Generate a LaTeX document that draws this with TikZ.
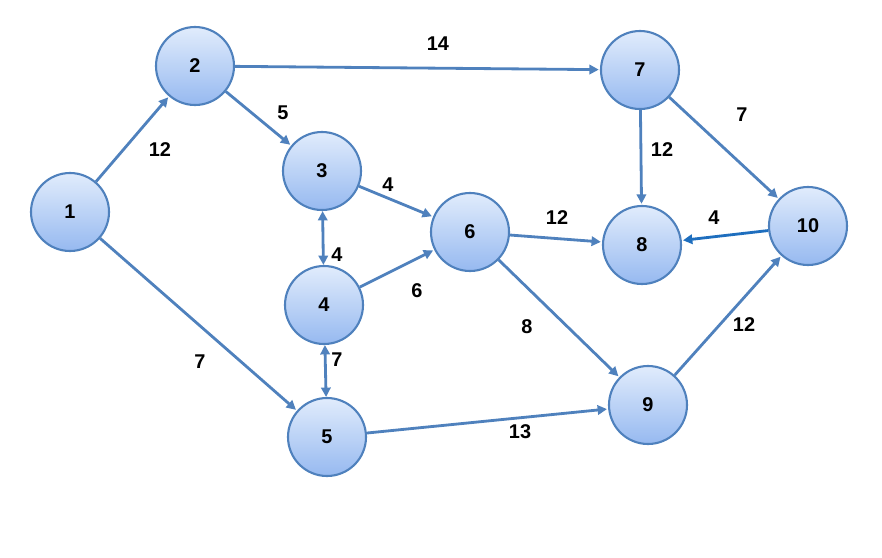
\documentclass[tikz,border=0pt]{standalone}
\usepackage{fontspec}
\setmainfont{Liberation Sans}
\usetikzlibrary{arrows.meta}
\definecolor{edge}{RGB}{79,129,189}
\definecolor{edgeb}{RGB}{30,110,190}
\definecolor{ntop}{RGB}{225,236,252}
\definecolor{nbot}{RGB}{150,185,240}
\begin{document}
\begin{tikzpicture}[x=0.03cm,y=-0.03cm,
  nd/.style={circle,draw=edge,line width=1.8pt,top color=ntop,bottom color=nbot,minimum size=78*0.03cm,inner sep=0pt,font=\fontsize{17}{19}\selectfont\bfseries},
  ar/.style={draw=edge,line width=2.4pt,-{Triangle[length=8pt,width=8pt]},shorten >=1pt},
  ba/.style={draw=edge,line width=2.4pt,{Triangle[length=8pt,width=8pt]}-{Triangle[length=8pt,width=8pt]}},
  lb/.style={font=\fontsize{17}{19}\selectfont\bfseries}]
\useasboundingbox (0,0) rectangle (882,558);
\node[nd] (n1) at (70,212) {1};
\node[nd] (n2) at (195,66) {2};
\node[nd] (n3) at (322,171) {3};
\node[nd] (n4) at (324,305) {4};
\node[nd] (n5) at (327,437) {5};
\node[nd] (n6) at (470,232) {6};
\node[nd] (n7) at (640,70) {7};
\node[nd] (n8) at (642,245) {8};
\node[nd] (n9) at (648,405) {9};
\node[nd] (n10) at (808,226) {10};
\draw[ar] (n1) -- (n2);
\draw[ar] (n1) -- (n5);
\draw[ar] (n2) -- (n3);
\draw[ar] (n2) -- (n7);
\draw[ar] (n3) -- (n6);
\draw[ba] (n3) -- (n4);
\draw[ar] (n4) -- (n6);
\draw[ba] (n4) -- (n5);
\draw[ar] (n5) -- (n9);
\draw[ar] (n6) -- (n8);
\draw[ar] (n6) -- (n9);
\draw[ar] (n7) -- (n8);
\draw[ar] (n7) -- (n10);
\draw[ar,draw=edgeb] (n10) -- (n8);
\draw[ar] (n9) -- (n10);
\node[lb] (l1) at (160,150) {12};
\node[lb] (l2) at (200,362) {7};
\node[lb] (l3) at (283,113) {5};
\node[lb] (l4) at (438,44) {14};
\node[lb] (l5) at (388,185) {4};
\node[lb] (l6) at (337,255) {4};
\node[lb] (l7) at (417,291) {6};
\node[lb] (l8) at (337,360) {7};
\node[lb] (l9) at (520,432) {13};
\node[lb] (l10) at (557,218) {12};
\node[lb] (l11) at (527,327) {8};
\node[lb] (l12) at (662,150) {12};
\node[lb] (l13) at (742,115) {7};
\node[lb] (l14) at (714,218) {4};
\node[lb] (l15) at (744,325) {12};
\end{tikzpicture}
\end{document}
